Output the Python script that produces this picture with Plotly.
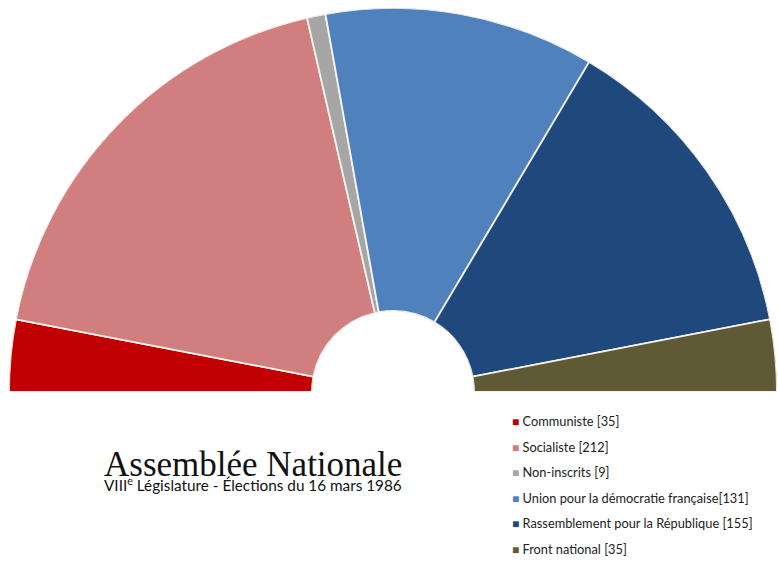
import numpy as np
import plotly.graph_objects as go

parties = ["Communiste", "Socialiste", "Non-inscrits",
           "Union pour la démocratie française", "Rassemblement pour la République",
           "Front national"]
seats = [35, 212, 9, 131, 155, 35]
legend_sep = [" ", " ", " ", "", " ", " "]
colors = ["#C00000", "#D17E7E", "#A6A6A6", "#4F81BD", "#1F497D", "#5F5935"]
title_text = "Assemblée Nationale"
subtitle_text = "VIII<sup>e</sup> Législature - Élections du 16 mars 1986"

W, H = 778, 561
total = sum(seats)
widths = [s * 180.0 / total for s in seats]
starts = np.concatenate([[0], np.cumsum(widths)[:-1]])
centers = starts + np.array(widths) / 2

fig = go.Figure()
for i, p in enumerate(parties):
    fig.add_trace(go.Barpolar(
        r=[1], theta=[centers[i]], width=[widths[i]],
        name=f"{p}{legend_sep[i]}[{seats[i]}]",
        marker=dict(color=colors[i], line=dict(color="#F6F2EE", width=1.8)),
        hoverinfo="name", showlegend=False,
    ))

def py(px):
    return 1 - px / H

annotations = []
for i, p in enumerate(parties):
    annotations.append(dict(
        text=(f'<span style="font-size:12px;color:{colors[i]}">■</span> '
              f'{p}{legend_sep[i]}[{seats[i]}]'),
        x=510 / W, y=py(421 + 25.6 * i), xref="paper", yref="paper",
        xanchor="left", yanchor="middle", showarrow=False,
        font=dict(family="Lato", size=12.8, color="#222")))

annotations.append(dict(
    text=(f'<span style="font-family:Liberation Serif;font-size:35px">{title_text}</span><br>'
          f'<span style="font-size:15.3px">{subtitle_text}</span>'),
    x=102 / W, y=py(469), xref="paper", yref="paper",
    xanchor="left", yanchor="middle", align="left", showarrow=False,
    font=dict(family="Lato", size=11.5, color="#111")))

fig.update_layout(
    width=W, height=H,
    margin=dict(l=0, r=0, t=0, b=0, autoexpand=False),
    paper_bgcolor="white", plot_bgcolor="white",
    polar=dict(
        domain=dict(x=[8 / W, 1.0], y=[py(392), py(8)]),
        sector=[0, 180], hole=0.211,
        bgcolor="rgba(0,0,0,0)",
        radialaxis=dict(visible=False, range=[0, 1]),
        angularaxis=dict(visible=False, rotation=180, direction="clockwise"),
    ),
    showlegend=False,
    annotations=annotations,
)
fig.write_html("out.html", config={"displayModeBar": False},
               post_script="document.body.style.margin='0px';")
